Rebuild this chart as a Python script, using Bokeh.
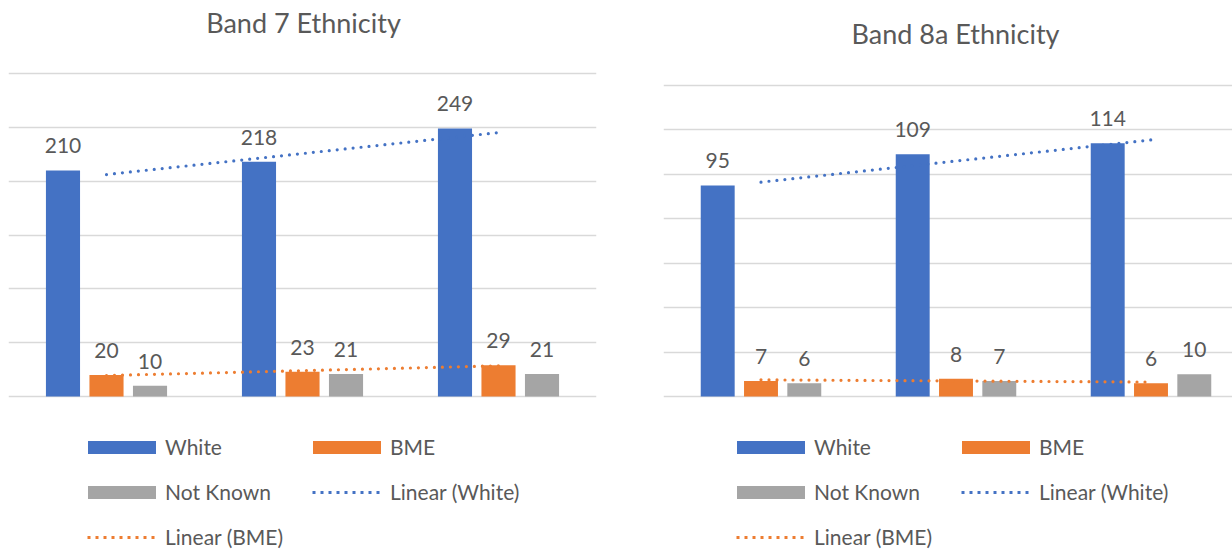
import numpy as np
from bokeh.plotting import figure
from bokeh.models import (Range1d, FixedTicker, Legend, LegendItem, LabelSet,
                          ColumnDataSource, Label, Grid)
from bokeh.core.properties import value
from bokeh.transform import dodge
from bokeh.layouts import row
from bokeh.embed import file_html
from bokeh.resources import INLINE

# ---- data ----
groups = [1, 2, 3]
band7_title = "Band 7 Ethnicity"
band7_white = [210, 218, 249]
band7_bme = [20, 23, 29]
band7_not_known = [10, 21, 21]

band8a_title = "Band 8a Ethnicity"
band8a_white = [95, 109, 114]
band8a_bme = [7, 8, 6]
band8a_not_known = [6, 7, 10]

series_names = ["White", "BME", "Not Known"]
trend_names = ["Linear (White)", "Linear (BME)"]

# ---- style ----
BLUE = "#4472C4"
ORANGE = "#ED7D31"
GRAY = "#A5A5A5"
TEXT = "#595959"
GRID = "#D9D9D9"
FONT = "Lato"
H = 549
BASE_PX = 396
OFF = 0.222
BW = 0.174
LEGEND_DOTS = "0 8 3 5 3 5 3 5 3 5 3 5 3 5 3 5 3 5 3 100"


def panel(title, white, bme, nk, ymax, step, fig_w, border_left, border_right,
          x_end, top_px, title_x, title_base, legend_x):
    k = (BASE_PX - top_px) / ymax
    y_range = Range1d(-(H - BASE_PX) / k, BASE_PX / k)
    p = figure(width=fig_w, height=H, x_range=Range1d(0.5, x_end), y_range=y_range,
               output_backend="svg", toolbar_location=None, title=None,
               x_axis_location=None, y_axis_location=None,
               min_border_left=border_left, min_border_right=border_right,
               min_border_top=0, min_border_bottom=0)
    p.outline_line_color = None
    p.background_fill_color = "white"
    p.border_fill_color = "white"
    for g in list(p.center):
        if isinstance(g, Grid):
            g.visible = False

    grid = Grid(dimension=1, ticker=FixedTicker(ticks=list(range(0, ymax + 1, step))),
                grid_line_color=GRID, grid_line_width=1.6)
    p.add_layout(grid)

    src = ColumnDataSource(dict(
        x=groups, white=white, bme=bme, nk=nk,
        white_l=[str(v) for v in white], bme_l=[str(v) for v in bme],
        nk_l=[str(v) for v in nk]))

    r_w = p.vbar(x=dodge("x", -OFF), top="white", width=BW, bottom=0, source=src,
                 fill_color=BLUE, line_color=None)
    r_b = p.vbar(x=dodge("x", 0), top="bme", width=BW, bottom=0, source=src,
                 fill_color=ORANGE, line_color=None)
    r_n = p.vbar(x=dodge("x", OFF), top="nk", width=BW, bottom=0, source=src,
                 fill_color=GRAY, line_color=None)

    for col, lab, off in (("white", "white_l", -OFF), ("bme", "bme_l", 0), ("nk", "nk_l", OFF)):
        ls = LabelSet(x=dodge("x", off), y=col, text=lab, source=src,
                      text_align="center", text_baseline="alphabetic", y_offset=17,
                      text_font=value(FONT), text_font_size="21px", text_color=TEXT)
        p.add_layout(ls)

    xs = [groups[0], groups[-1]]
    cw = np.polyfit(groups, white, 1)
    cb = np.polyfit(groups, bme, 1)
    p.line(x=xs, y=list(np.polyval(cw, xs)), line_color=BLUE, line_width=3.2,
           line_dash="0 8", line_cap="round")
    p.line(x=xs, y=list(np.polyval(cb, xs)), line_color=ORANGE, line_width=3.2,
           line_dash="0 8", line_cap="round")
    # legend proxies for the trend lines (a single NaN point: nothing drawn in the plot)
    lg_tw = p.line(x=[np.nan], y=[np.nan], line_color=BLUE, line_width=3,
                   line_dash=LEGEND_DOTS, line_cap="butt")
    lg_tb = p.line(x=[np.nan], y=[np.nan], line_color=ORANGE, line_width=3,
                   line_dash=LEGEND_DOTS, line_cap="butt")

    legend = Legend(items=[
        LegendItem(label=series_names[0], renderers=[r_w]),
        LegendItem(label=series_names[1], renderers=[r_b]),
        LegendItem(label=series_names[2], renderers=[r_n]),
        LegendItem(label=trend_names[0], renderers=[lg_tw]),
        LegendItem(label=trend_names[1], renderers=[lg_tb]),
    ], location=(legend_x, 0), orientation="horizontal", ncols=2,
        glyph_width=85, glyph_height=16, label_height=21, label_width=119,
        label_standoff=1, spacing=20, padding=0, margin=0, border_line_color=None,
        background_fill_alpha=0, label_text_font=FONT, label_text_font_size="21px",
        label_text_color=TEXT)
    p.add_layout(legend)

    p.add_layout(Label(x=title_x, y=H - title_base, x_units="screen", y_units="screen",
                       text=title, text_align="center", text_baseline="alphabetic",
                       text_font=FONT, text_font_size="27px", text_color=TEXT))
    return p


p1 = panel(band7_title, band7_white, band7_bme, band7_not_known, 300, 50,
           616, 8, 20, 3.5, 73, 295, 22, 71)
p2 = panel(band8a_title, band8a_white, band8a_bme, band8a_not_known, 140, 20,
           616, 47, 0, 0.5 + 569 / 195, 85, 292, 33, 65)

layout = row(p1, p2)
open("out.html", "w").write(file_html(layout, INLINE))
